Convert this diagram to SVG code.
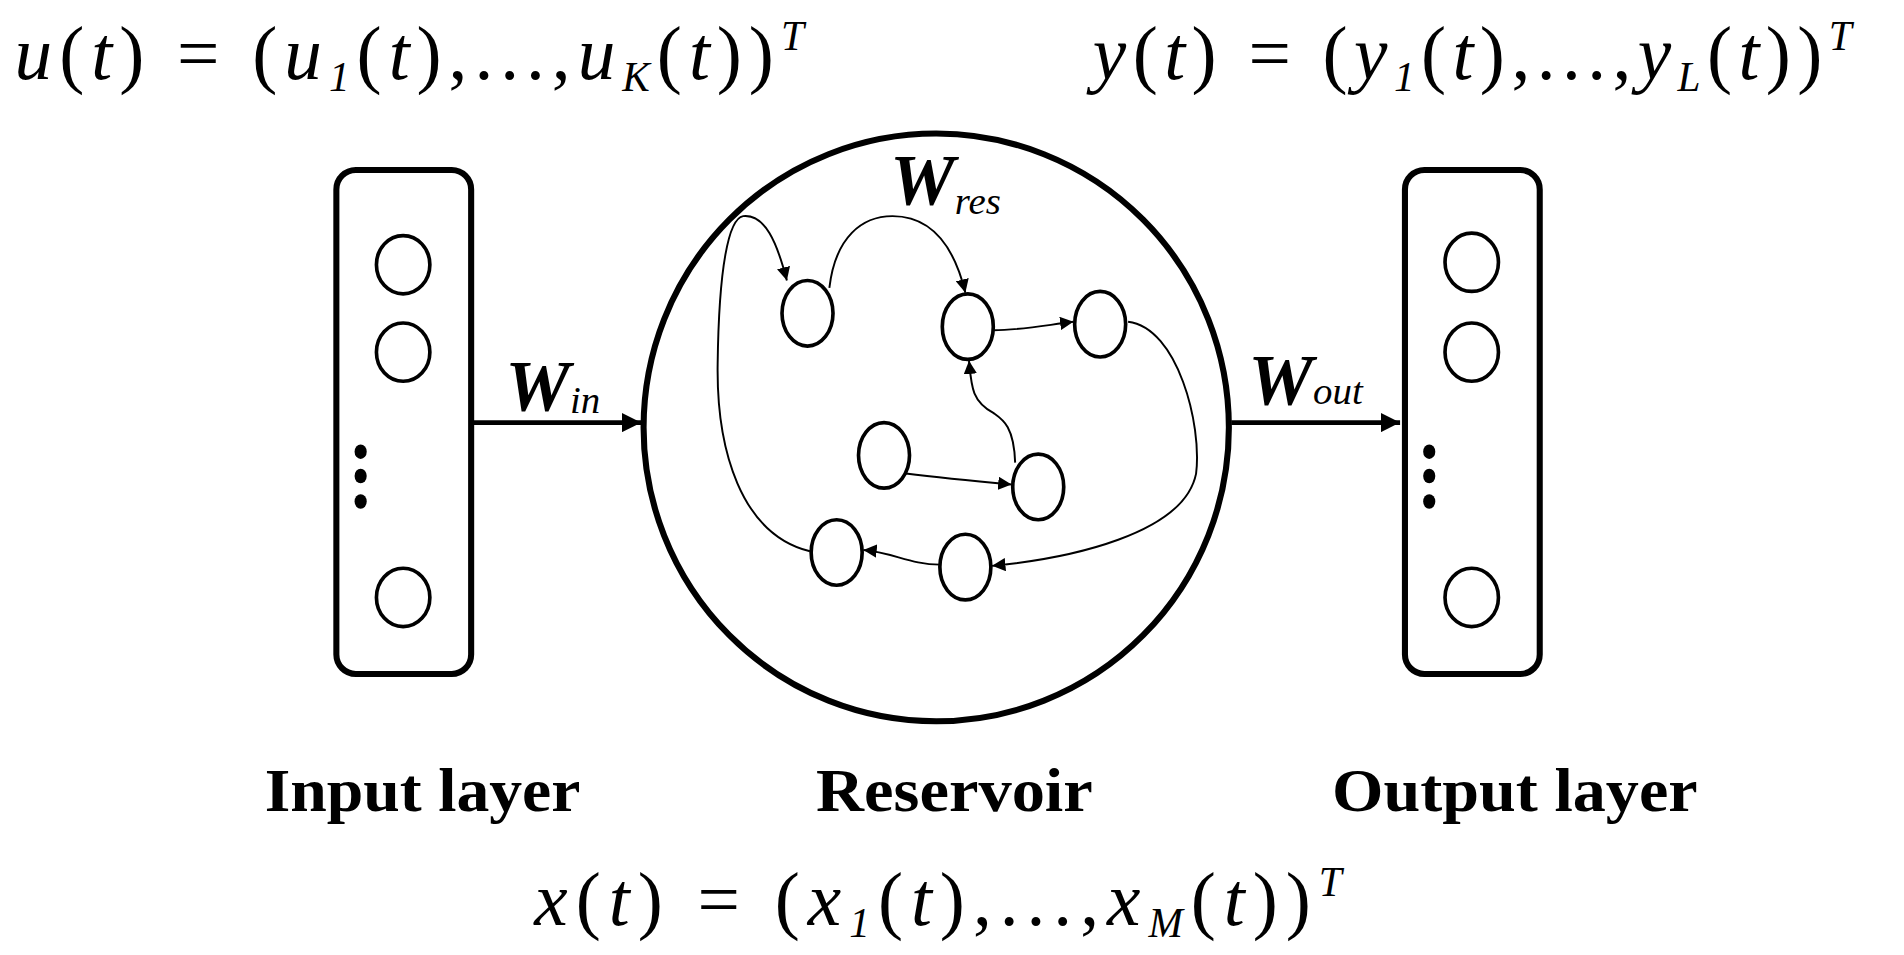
<svg xmlns="http://www.w3.org/2000/svg" width="1904" height="955" viewBox="0 0 1904 955">
<style>
.box{fill:none;stroke:#000;stroke-width:5}
.nd{fill:#fff;stroke:#000;stroke-width:3}
.ed{fill:none;stroke:#000;stroke-width:1.6}
.th{fill:none;stroke:#000;stroke-width:4}
.m{font-family:"Liberation Serif",serif;font-style:italic;font-size:62px}
.up{font-style:normal}
.sb{font-size:34px}
.lb{font-family:"Liberation Serif",serif;font-weight:bold;font-size:50px}
.w{font-family:"Liberation Serif",serif;font-weight:bold;font-style:italic;font-size:60px}
.ws{font-family:"Liberation Serif",serif;font-style:italic;font-size:32px}
</style>
<defs>
<marker id="a" viewBox="0 0 10 10" refX="10" refY="5" markerWidth="11" markerHeight="11" markerUnits="userSpaceOnUse" orient="auto"><path d="M0,0L10,5L0,10z"/></marker>
<marker id="c" viewBox="0 0 10 10" refX="10" refY="5" markerWidth="16" markerHeight="16" markerUnits="userSpaceOnUse" orient="auto"><path d="M0,0L10,5L0,10z"/></marker>
</defs>
<g transform="scale(1.2143)">
<g id="formula-u"><text class="m" x="12" y="65" textLength="650" lengthAdjust="spacing">u<tspan class="up">(</tspan>t<tspan class="up">) = (</tspan>u<tspan class="sb" dy="10">1</tspan><tspan dy="-10" class="up">(</tspan>t<tspan class="up">),...,</tspan>u<tspan class="sb" dy="10">K</tspan><tspan dy="-10" class="up">(</tspan>t<tspan class="up">))</tspan><tspan class="sb" dy="-24">T</tspan></text></g>
<g id="formula-y"><text class="m" x="900" y="65" textLength="625" lengthAdjust="spacing">y<tspan class="up">(</tspan>t<tspan class="up">) = (</tspan>y<tspan class="sb" dy="10">1</tspan><tspan dy="-10" class="up">(</tspan>t<tspan class="up">),...,</tspan>y<tspan class="sb" dy="10">L</tspan><tspan dy="-10" class="up">(</tspan>t<tspan class="up">))</tspan><tspan class="sb" dy="-24">T</tspan></text></g>
<g id="formula-x"><text class="m" x="440" y="762" textLength="665" lengthAdjust="spacing">x<tspan class="up">(</tspan>t<tspan class="up">) = (</tspan>x<tspan class="sb" dy="10">1</tspan><tspan dy="-10" class="up">(</tspan>t<tspan class="up">),...,</tspan>x<tspan class="sb" dy="10">M</tspan><tspan dy="-10" class="up">(</tspan>t<tspan class="up">))</tspan><tspan class="sb" dy="-24">T</tspan></text></g>

<g id="input-layer">
<rect class="box" x="277" y="140" width="111" height="415" rx="16"/>
<ellipse class="nd" cx="332" cy="218" rx="22" ry="24"/>
<ellipse class="nd" cx="332" cy="290" rx="22" ry="24"/>
<ellipse class="nd" cx="332" cy="492" rx="22" ry="24"/>
<ellipse cx="297" cy="372" rx="5" ry="6"/><ellipse cx="297" cy="392" rx="5" ry="6"/><ellipse cx="297" cy="413" rx="5" ry="6"/>
<text class="lb" x="218" y="668" textLength="260" lengthAdjust="spacingAndGlyphs">Input layer</text>
</g>
<g id="output-layer">
<rect class="box" x="1157" y="140" width="111" height="415" rx="16"/>
<ellipse class="nd" cx="1212" cy="216" rx="22" ry="24"/>
<ellipse class="nd" cx="1212" cy="290" rx="22" ry="24"/>
<ellipse class="nd" cx="1212" cy="492" rx="22" ry="24"/>
<ellipse cx="1177" cy="372" rx="5" ry="6"/><ellipse cx="1177" cy="392" rx="5" ry="6"/><ellipse cx="1177" cy="413" rx="5" ry="6"/>
<text class="lb" x="1097" y="668" textLength="301" lengthAdjust="spacingAndGlyphs">Output layer</text>
</g>
<g id="reservoir">
<ellipse class="box" cx="771" cy="352" rx="241" ry="242"/>
<text class="lb" x="672" y="668" textLength="228" lengthAdjust="spacingAndGlyphs">Reservoir</text>
<text x="733" y="168"><tspan class="w">W</tspan><tspan class="ws" dy="8">res</tspan></text>
</g>
<g id="reservoir-nodes">
<ellipse id="n1" class="nd" cx="665" cy="258" rx="21" ry="27"/>
<ellipse id="n2" class="nd" cx="797" cy="269" rx="21" ry="27"/>
<ellipse id="n3" class="nd" cx="906" cy="267" rx="21" ry="27"/>
<ellipse id="n4" class="nd" cx="728" cy="375" rx="21" ry="27"/>
<ellipse id="n5" class="nd" cx="855" cy="401" rx="21" ry="27"/>
<ellipse id="n6" class="nd" cx="689" cy="455" rx="21" ry="27"/>
<ellipse id="n7" class="nd" cx="795" cy="467" rx="21" ry="27"/>
</g>
<g id="connectors">
<line class="th" x1="390" y1="348" x2="528" y2="348" marker-end="url(#c)"/>
<text x="416" y="338"><tspan class="w">W</tspan><tspan class="ws" dy="2">in</tspan></text>
<line class="th" x1="1014" y1="348" x2="1153" y2="348" marker-end="url(#c)"/>
<text x="1028" y="333"><tspan class="w">W</tspan><tspan class="ws" dy="0">out</tspan></text>
<path class="ed" d="M667,454 C610,440 590,370 591,300 C592,220 600,180 612,178 C630,176 640,200 648,231" marker-end="url(#a)"/>
<path class="ed" d="M683,237 C688,195 710,178 735,178 C765,178 785,200 795,241" marker-end="url(#a)"/>
<path class="ed" d="M818,272 C840,272 860,268 884,265" stroke-width="2.5" marker-end="url(#a)"/>
<path class="ed" d="M929,265 C970,270 990,350 985,390 C975,440 880,460 817,466" marker-end="url(#a)"/>
<path class="ed" d="M774,465 C750,465 735,455 711,453" marker-end="url(#a)"/>
<path class="ed" d="M746,390 C770,393 800,396 833,399" stroke-width="2.5" marker-end="url(#a)"/>
<path class="ed" d="M836,381 C835,350 825,345 818,340 C800,330 800,318 798,297" marker-end="url(#a)"/>
</g>
</g>
</svg>
